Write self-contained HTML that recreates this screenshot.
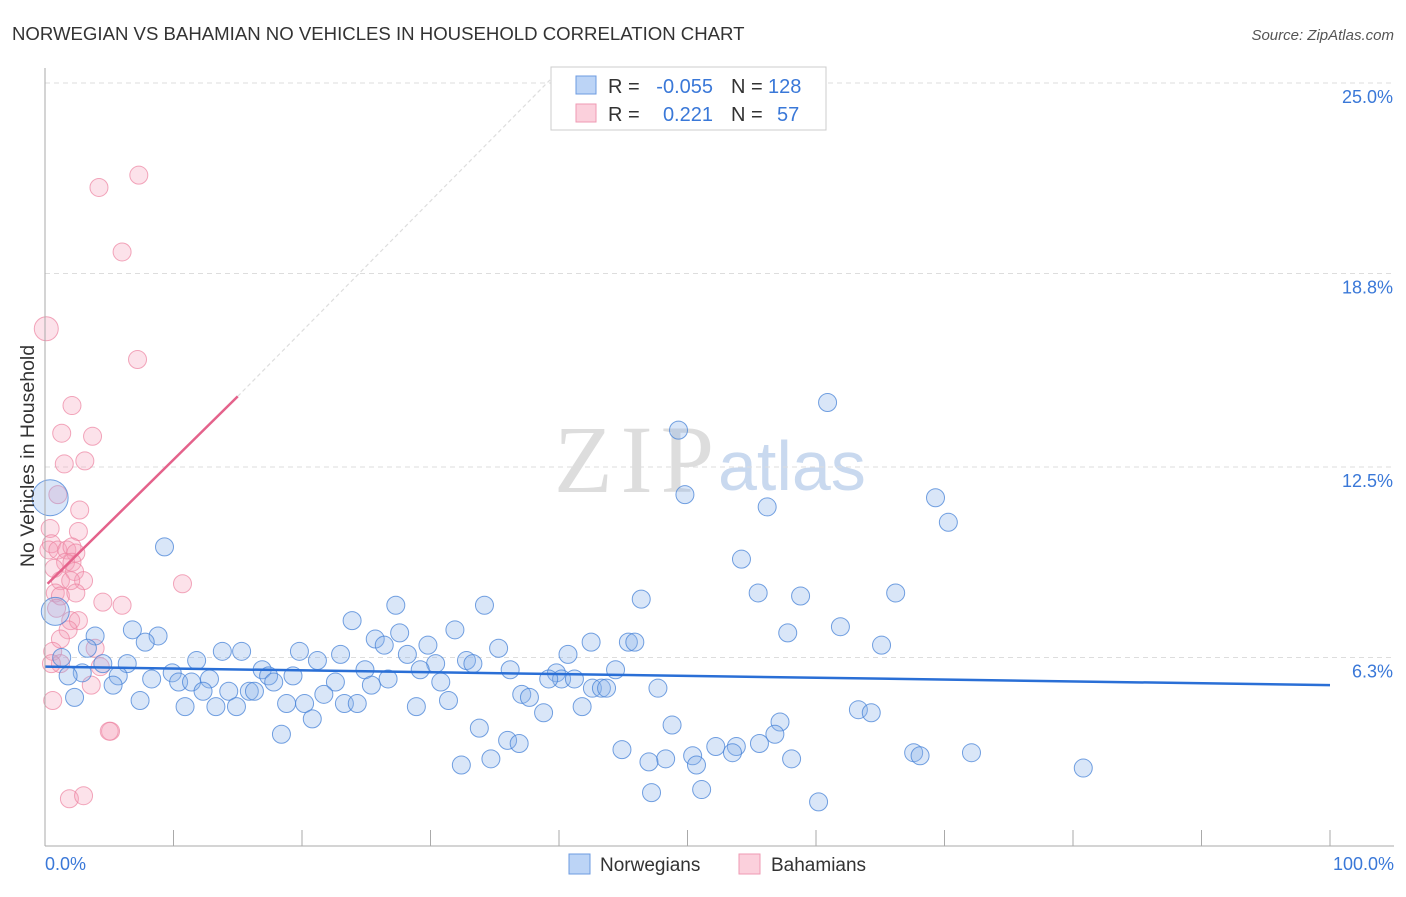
<!DOCTYPE html>
<html><head><meta charset="utf-8"><style>
body{margin:0;background:#fff;font-family:"Liberation Sans",sans-serif}
svg text{font-family:"Liberation Sans",sans-serif}
</style></head><body>
<svg id="c" width="1406" height="892">
<text x="12" y="40" font-size="18.6" fill="#333">NORWEGIAN VS BAHAMIAN NO VEHICLES IN HOUSEHOLD CORRELATION CHART</text>
<text x="1394" y="40" font-size="15" fill="#555" font-style="italic" text-anchor="end">Source: ZipAtlas.com</text>
<text x="714" y="492" font-size="96" fill="#ddd" style="font-family:'Liberation Serif',serif" text-anchor="end" textLength="160">ZIP</text>
<text x="718" y="490" font-size="70" fill="#c9d9ef">atlas</text>
<g id="grid"></g><g id="pts"></g><g id="trend"></g>
<line x1="45" y1="68" x2="45" y2="846" stroke="#aaa"/>
<line x1="45" y1="846" x2="1394" y2="846" stroke="#aaa"/>
<text transform="translate(34,456) rotate(-90)" font-size="19.5" fill="#333" text-anchor="middle">No Vehicles in Household</text>
<text x="45" y="870" font-size="18" fill="#3a78d8">0.0%</text>
<text x="1394" y="870" font-size="18" fill="#3a78d8" text-anchor="end">100.0%</text>
<g>
<rect x="551" y="67" width="275" height="63" fill="#fff" stroke="#ccc"/>
<rect x="576" y="76" width="20" height="18" fill="#bcd4f6" stroke="#6d9be0"/>
<rect x="576" y="104" width="20" height="18" fill="#fbd0dc" stroke="#ef9ab3"/>
<text x="608" y="93" font-size="20" fill="#333">R =</text>
<text x="713" y="93" font-size="20" fill="#3a78d8" text-anchor="end">-0.055</text>
<text x="731" y="93" font-size="20" fill="#333">N =</text>
<text x="768" y="93" font-size="20" fill="#3a78d8">128</text>
<text x="608" y="121" font-size="20" fill="#333">R =</text>
<text x="713" y="121" font-size="20" fill="#3a78d8" text-anchor="end">0.221</text>
<text x="731" y="121" font-size="20" fill="#333">N =</text>
<text x="777" y="121" font-size="20" fill="#3a78d8">57</text>
</g>
<g><rect x="569" y="854" width="21" height="20" fill="#bcd4f6" stroke="#6d9be0"/><text x="600" y="871" font-size="19" fill="#333">Norwegians</text></g>
<g><rect x="739" y="854" width="21" height="20" fill="#fbd0dc" stroke="#ef9ab3"/><text x="771" y="871" font-size="19" fill="#333">Bahamians</text></g>
</svg>
<script>
const yTicks=[25.0,18.8,12.5,6.3];
const yTickLabels=["25.0%","18.8%","12.5%","6.3%"];
const xTicks=[0,10,20,30,40,50,60,70,80,90,100];
const blueX=[60.9,49.3,49.8,56.2,69.3,70.3,9.3,54.2,66.2,55.5,58.8,46.4,34.2,27.3,23.9,61.9,57.8,31.9,6.8,8.8,3.9,27.6,25.7,26.4,29.8,42.5,45.4,45.9,35.3,65.1,7.8,3.3,13.8,15.3,19.8,23.0,28.2,40.7,1.3,11.8,21.2,30.4,32.8,33.3,4.5,6.4,2.9,1.8,5.7,8.3,9.9,16.9,17.4,19.3,24.9,29.2,36.2,39.8,40.2,41.2,44.4,12.8,17.8,22.6,26.7,30.8,39.2,5.3,10.4,11.4,25.4,42.6,43.3,43.7,47.7,12.3,14.3,15.9,16.3,21.7,37.1,37.7,2.3,7.4,23.3,24.3,18.8,20.2,31.4,10.9,13.3,14.9,28.9,41.8,20.8,38.8,63.3,64.3,48.8,57.2,33.8,56.8,18.4,36.0,36.9,55.6,52.2,53.8,53.5,44.9,50.4,48.3,50.7,47.0,58.1,67.6,68.1,72.1,32.4,34.7,80.8,47.2,51.1,60.2,0.4,0.8];
const blueY=[14.6,13.7,11.6,11.2,11.5,10.7,9.9,9.5,8.4,8.4,8.3,8.2,8.0,8.0,7.5,7.3,7.1,7.2,7.2,7.0,7.0,7.1,6.9,6.7,6.7,6.8,6.8,6.8,6.6,6.7,6.8,6.6,6.5,6.5,6.5,6.4,6.4,6.4,6.3,6.2,6.2,6.1,6.2,6.1,6.1,6.1,5.8,5.7,5.7,5.6,5.8,5.9,5.7,5.7,5.9,5.9,5.9,5.8,5.6,5.6,5.9,5.6,5.5,5.5,5.6,5.5,5.6,5.4,5.5,5.5,5.4,5.3,5.3,5.3,5.3,5.2,5.2,5.2,5.2,5.1,5.1,5.0,5.0,4.9,4.8,4.8,4.8,4.8,4.9,4.7,4.7,4.7,4.7,4.7,4.3,4.5,4.6,4.5,4.1,4.2,4.0,3.8,3.8,3.6,3.5,3.5,3.4,3.4,3.2,3.3,3.1,3.0,2.8,2.9,3.0,3.2,3.1,3.2,2.8,3.0,2.7,1.9,2.0,1.6,11.5,7.8];
const blueR=[];blueX.forEach((v,i)=>blueR.push(i>=blueX.length-2?(i==blueX.length-2?18:14):9));
const pinkX=[0.1,7.3,4.2,6.0,7.2,2.1,1.3,3.7,1.5,3.1,1.0,2.7,2.6,0.4,0.5,0.3,1.0,1.7,2.1,2.4,1.6,2.1,0.7,2.3,1.2,3.0,2.0,0.8,1.2,2.4,10.7,4.5,6.0,2.0,2.6,1.8,1.2,0.6,3.9,1.2,0.5,3.6,4.3,0.6,5.1,5.0,1.9,3.0,0.9];
const pinkY=[17.0,22.0,21.6,19.5,16.0,14.5,13.6,13.5,12.6,12.7,11.6,11.1,10.4,10.5,10.0,9.8,9.8,9.8,9.9,9.7,9.4,9.4,9.2,9.1,8.8,8.8,8.8,8.4,8.3,8.4,8.7,8.1,8.0,7.5,7.5,7.2,6.9,6.5,6.6,6.1,6.1,5.4,6.0,4.9,3.9,3.9,1.7,1.8,7.9];
const blueTrend=[[0,6.0],[100,5.4]];
const pinkTrend=[[0.2,8.7],[15,14.8]];
const pinkDash=[[15,14.8],[39.3,25.1]];
const X=v=>45+v*12.85, Y=v=>851-v*30.72;
const NS="http://www.w3.org/2000/svg";
function mk(t,a,p){const e=document.createElementNS(NS,t);for(const k in a)e.setAttribute(k,a[k]);p.appendChild(e);return e;}
const g=document.getElementById('grid');
yTicks.forEach((v,i)=>{
 const l=mk('line',{x1:45,x2:1394,y1:Y(v),y2:Y(v),stroke:'#ddd','stroke-dasharray':'5,4'},g);
 
 
 const t=mk('text',{x:1393,y:Y(v)+20,'font-size':18,fill:'#3a78d8','text-anchor':'end'},g);t.textContent=yTickLabels[i];
 
 
});
xTicks.forEach(v=>{
 const l=mk('line',{x1:X(v),x2:X(v),y1:830,y2:846,stroke:'#aaa'},g);
 
 
});
const p=document.getElementById('pts');
pinkX.forEach((v,i)=>{
 const c=mk('circle',{cx:X(v),cy:Y(pinkY[i]),r:i==0?12:9,fill:'rgba(246,160,185,0.3)',stroke:'rgba(236,130,160,0.7)'},p);
 
 
});
blueX.forEach((v,i)=>{
 const c=mk('circle',{cx:X(v),cy:Y(blueY[i]),r:blueR[i],fill:'rgba(140,180,235,0.33)',stroke:'rgba(70,130,215,0.75)'},p);
 
 
});
const tr=document.getElementById('trend');
let l=mk('line',{x1:X(blueTrend[0][0]),y1:Y(blueTrend[0][1]),x2:X(blueTrend[1][0]),y2:Y(blueTrend[1][1]),stroke:'#2a6fd6','stroke-width':2.5},tr);


l=mk('line',{x1:X(pinkTrend[0][0]),y1:Y(pinkTrend[0][1]),x2:X(pinkTrend[1][0]),y2:Y(pinkTrend[1][1]),stroke:'#e4628b','stroke-width':2.5},tr);


l=mk('line',{x1:X(pinkDash[0][0]),y1:Y(pinkDash[0][1]),x2:X(pinkDash[1][0]),y2:Y(pinkDash[1][1]),stroke:'#ddd','stroke-width':1.2,'stroke-dasharray':'4,3'},tr);


</script>
</body></html>
